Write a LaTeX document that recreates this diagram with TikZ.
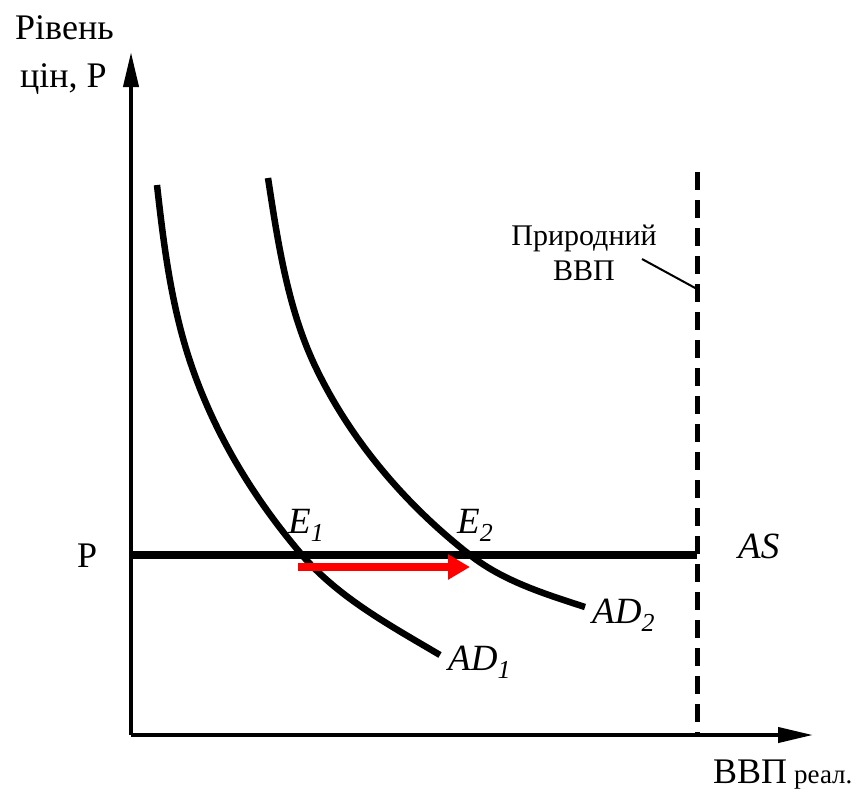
\documentclass[tikz,border=0pt]{standalone}
\usepackage{fontspec}
\setmainfont{Liberation Serif}
\usetikzlibrary{arrows.meta}
\begin{document}
\begin{tikzpicture}[x=1pt, y=-1pt,
  axis/.style={line width=4pt, -{Triangle[length=35pt,width=15pt]}},
  curve/.style={line width=6.5pt},
  lbl/.style={inner sep=0pt, anchor=base west, font=\fontsize{36}{40}\selectfont},
  ilbl/.style={lbl, font=\fontsize{37}{40}\selectfont\itshape},
  note/.style={inner sep=0pt, anchor=base, font=\fontsize{30}{32}\selectfont}]
  \useasboundingbox (0,0) rectangle (865,793);
  % axes
  \coordinate (O) at (131,735);
  \coordinate (ytop) at (131,52);
  \coordinate (xend) at (813,735);
  \draw[axis] (O) -- (ytop);
  \draw[axis] (O) -- (xend);
  \node[lbl] (ylabA) at (15,39) {Рівень};
  \node[lbl] (ylabB) at (20,87) {цін, P};
  \node[lbl] (xlab) at (713,783) {ВВП\hspace{7pt}{\fontsize{27}{28}\selectfont реал.}};
  % natural output
  \coordinate (natTop) at (697,172);
  \coordinate (natBot) at (697,735);
  \draw[line width=5pt, dash pattern=on 18pt off 10pt] (natTop) -- (natBot);
  \node[note] (natA) at (584,245) {Природний};
  \node[note] (natB) at (584,280) {ВВП};
  \coordinate (leadA) at (642,259);
  \coordinate (leadB) at (697,289);
  \draw[line width=2pt] (leadA) -- (leadB);
  % aggregate supply
  \coordinate (asL) at (131,555);
  \coordinate (asR) at (697,555);
  \draw[line width=7.5pt] (asL) -- (asR);
  \node[lbl] (P) at (77,567) {P};
  \node[ilbl] (AS) at (738,558) {AS};
  % demand curves
  \coordinate (ad1top) at (157,185);
  \coordinate (ad1mid) at (193,370);
  \coordinate (E1pt) at (302,555);
  \coordinate (ad1end) at (440,655);
  \draw[curve] (ad1top) .. controls (164,248) and (172,311) .. (ad1mid)
    .. controls (217,438) and (255,500) .. (E1pt)
    .. controls (339,598) and (391,626) .. (ad1end);
  \coordinate (ad2top) at (268,178);
  \coordinate (ad2mid) at (317,370);
  \coordinate (E2pt) at (470,555);
  \coordinate (ad2end) at (585,607);
  \draw[curve] (ad2top) .. controls (278,243) and (288,311) .. (ad2mid)
    .. controls (352,442) and (407,506) .. (E2pt)
    .. controls (503,581) and (545,594) .. (ad2end);
  \node[ilbl] (AD1) at (448,670) {AD\textsubscript{1}};
  \node[ilbl] (AD2) at (592,623) {AD\textsubscript{2}};
  \node[ilbl] (E1) at (288,533) {E\textsubscript{1}};
  \node[ilbl] (E2) at (457,533) {E\textsubscript{2}};
  % shift
  \coordinate (shiftA) at (298,567);
  \coordinate (shiftB) at (470,567);
  \draw[red, line width=8pt, -{Triangle[length=22pt,width=24pt]}] (shiftA) -- (shiftB);
\end{tikzpicture}
\end{document}
